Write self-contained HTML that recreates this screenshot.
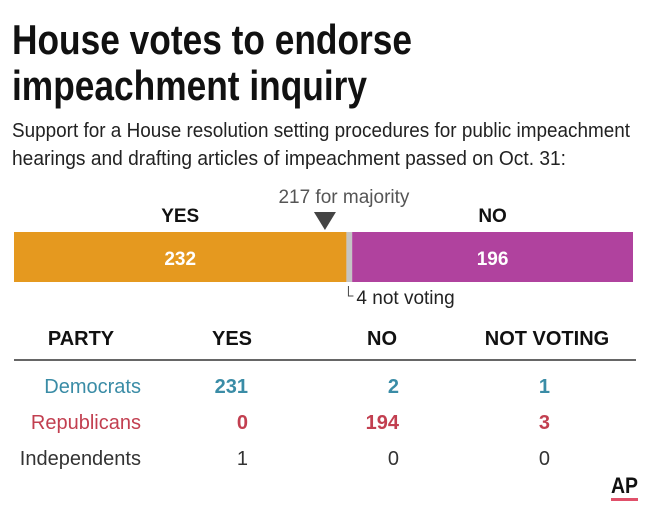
<!DOCTYPE html>
<html><head><meta charset="utf-8"><style>
body{margin:0;background:#fff;}
svg{display:block;font-family:"Liberation Sans Narrow","Liberation Sans",sans-serif;}
</style></head><body>
<svg width="650" height="506" viewBox="0 0 650 506">
<text x="12" y="54" font-size="42" font-weight="bold" fill="#111" textLength="400" lengthAdjust="spacingAndGlyphs">House votes to endorse</text>
<text x="12" y="100" font-size="42" font-weight="bold" fill="#111" textLength="355" lengthAdjust="spacingAndGlyphs">impeachment inquiry</text>
<text x="12" y="137" font-size="20" fill="#222" textLength="618" lengthAdjust="spacingAndGlyphs">Support for a House resolution setting procedures for public impeachment</text>
<text x="12" y="165" font-size="20" fill="#222" textLength="554" lengthAdjust="spacingAndGlyphs">hearings and drafting articles of impeachment passed on Oct. 31:</text>
<g id="bar"></g>
<g id="table"></g>
<text x="638" y="493" font-size="22" font-weight="bold" fill="#111" text-anchor="end" textLength="27" lengthAdjust="spacingAndGlyphs">AP</text>
<rect x="611" y="498" width="27" height="3" fill="#e0506a"/>
</svg>
<script>
const voteCats=["YES","NOT VOTING","NO"];
const voteVals=[232,4,196];
const majority=217;
const parties=["Democrats","Republicans","Independents"];
const yesVals=[231,0,1];
const noVals=[2,194,0];
const nvVals=[1,3,0];
const NS="http://www.w3.org/2000/svg";
function mk(tag,attrs,parent,text){const e=document.createElementNS(NS,tag);for(const k in attrs)e.setAttribute(k,attrs[k]);if(text!==undefined)e.textContent=text;parent.appendChild(e);return e;}
const total=voteVals.reduce((a,b)=>a+b,0);
const x0=14,x1=633;
const xs=v=>x0+v/total*(x1-x0);
const bar=document.getElementById('bar');
const cols=["#e5991f","#c4c4c4","#b0429e"];
let acc=0;
voteVals.forEach((v,i)=>{
 const r=mk('rect',{x:xs(acc),y:232,width:xs(acc+v)-xs(acc),height:50,fill:cols[i]},bar);
 
 
 if(i!==1){const cx=(xs(acc)+xs(acc+v))/2;
  const t=mk('text',{x:cx,y:265,'font-size':19,'font-weight':'bold',fill:'#fff','text-anchor':'middle'},bar,String(v));
  
  
  const h=mk('text',{x:cx,y:222,'font-size':19,'font-weight':'bold',fill:'#111','text-anchor':'middle'},bar,voteCats[i]);
  
  }
 acc+=v;
});
const mx=xs(majority);
const tri=mk('polygon',{points:`${mx-11},212 ${mx+11},212 ${mx},230`,fill:'#444'},bar);


const mt=mk('text',{x:mx+19,y:203,'font-size':19,fill:'#555','text-anchor':'middle'},bar,majority+" for majority");


const nvx=xs(voteVals[0])+2;
const nl=mk('path',{d:`M${nvx},286 V296 H${nvx+5}`,stroke:'#444',fill:'none','stroke-width':1},bar);


const nt=mk('text',{x:nvx+8,y:304,'font-size':19,fill:'#222'},bar,voteVals[1]+" not voting");


const tb=document.getElementById('table');
const hdr=[["PARTY",81],["YES",232],["NO",382],["NOT VOTING",547]];
hdr.forEach(h=>{const t=mk('text',{x:h[1],y:345,'font-size':20,'font-weight':'bold',fill:'#111','text-anchor':'middle'},tb,h[0]);
 
 });
const ln=mk('line',{x1:14,x2:636,y1:360,y2:360,stroke:'#333','stroke-width':1.5},tb);


const pcol=["#3a8ca6","#c23f50","#333"];
const ys=[393,429,465];
parties.forEach((p,i)=>{
 const w=i<2?'bold':'normal';
 const n=mk('text',{x:141,y:ys[i],'font-size':20,fill:pcol[i],'text-anchor':'end'},tb,p);
 
 
 [[yesVals,248,'yes'],[noVals,399,'no'],[nvVals,550,'not-voting']].forEach(c=>{
  const t=mk('text',{x:c[1],y:ys[i],'font-size':20,'font-weight':w,fill:pcol[i],'text-anchor':'end'},tb,String(c[0][i]));
  
  
 });
});
</script>
</body></html>
